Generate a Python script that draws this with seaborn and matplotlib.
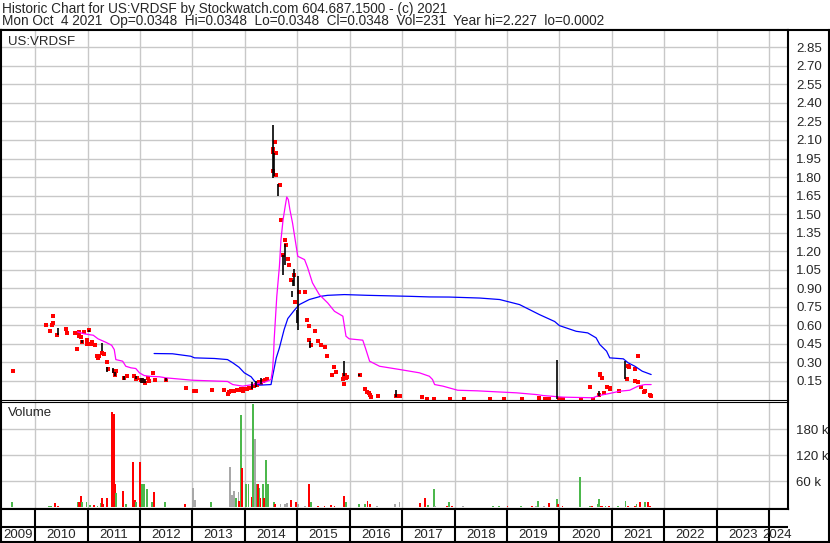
import matplotlib
matplotlib.use("Agg")
import matplotlib.pyplot as plt
import seaborn as sns
import pandas as pd
import numpy as np

# daily closes (decimal year, price)
tick_dates = [2009.57, 2010.20, 2010.28, 2010.32, 2010.34, 2010.35, 2010.41, 2010.59, 2010.61, 2010.76,
              2010.80, 2010.83, 2010.84, 2010.87, 2010.89, 2010.94, 2010.99, 2010.99, 2011.02, 2011.07,
              2011.09, 2011.15, 2011.18, 2011.20, 2011.22, 2011.28, 2011.31, 2011.37, 2011.39, 2011.51,
              2011.53, 2011.54, 2011.69, 2011.76, 2011.89, 2011.92, 2011.95, 2012.02, 2012.06, 2012.10,
              2012.16, 2012.17, 2012.25, 2012.29, 2012.50, 2012.88, 2013.04, 2013.07, 2013.37, 2013.61,
              2013.68, 2013.70, 2013.73, 2013.75, 2013.80, 2013.85, 2013.88, 2013.90, 2013.93, 2013.96,
              2014.00, 2014.05, 2014.08, 2014.12, 2014.15, 2014.18, 2014.21, 2014.24, 2014.28, 2014.30,
              2014.34, 2014.39, 2014.42, 2014.54, 2014.54, 2014.54, 2014.58, 2014.60, 2014.60, 2014.68,
              2014.69, 2014.73, 2014.76, 2014.79, 2014.82, 2014.84, 2014.89, 2014.94, 2014.96, 2015.03,
              2015.15, 2015.19, 2015.23, 2015.23, 2015.27, 2015.33, 2015.40, 2015.45, 2015.53, 2015.57,
              2015.67, 2015.71, 2015.74, 2015.87, 2015.89, 2015.90, 2015.92, 2015.93, 2015.95, 2016.19,
              2016.30, 2016.33, 2016.36, 2016.39, 2016.41, 2016.54, 2016.89, 2016.96, 2017.38, 2017.48,
              2017.60, 2017.92, 2018.19, 2018.67, 2018.95, 2019.28, 2019.62, 2019.72, 2019.81, 2020.00,
              2020.06, 2020.42, 2020.59, 2020.64, 2020.75, 2020.77, 2020.78, 2020.82, 2020.86, 2020.90,
              2020.96, 2020.97, 2021.13, 2021.28, 2021.30, 2021.32, 2021.45, 2021.45, 2021.49, 2021.49,
              2021.56, 2021.61, 2021.64, 2021.72, 2021.75]
tick_prices = [0.229, 0.601, 0.552, 0.601, 0.674, 0.615, 0.518, 0.574, 0.536, 0.536,
               0.412, 0.544, 0.512, 0.507, 0.467, 0.547, 0.485, 0.453, 0.560, 0.453,
               0.463, 0.439, 0.350, 0.334, 0.348, 0.378, 0.366, 0.302, 0.243, 0.234,
               0.202, 0.234, 0.175, 0.194, 0.194, 0.167, 0.178, 0.154, 0.148, 0.132,
               0.170, 0.146, 0.213, 0.156, 0.156, 0.095, 0.067, 0.067, 0.073, 0.073,
               0.043, 0.062, 0.070, 0.067, 0.070, 0.078, 0.075, 0.073, 0.081, 0.067,
               0.085, 0.089, 0.092, 0.095, 0.113, 0.108, 0.118, 0.121, 0.140, 0.135,
               0.148, 0.154, 0.162, 2.030, 2.000, 1.846, 2.086, 1.992, 1.819, 1.738,
               1.455, 1.172, 1.294, 1.253, 1.140, 1.092, 0.970, 1.005, 0.787, 0.868,
               0.873, 0.647, 0.593, 0.485, 0.445, 0.558, 0.477, 0.445, 0.423, 0.348,
               0.196, 0.259, 0.221, 0.164, 0.202, 0.129, 0.202, 0.175, 0.184, 0.202,
               0.081, 0.062, 0.054, 0.040, 0.024, 0.027, 0.027, 0.027, 0.019, 0.008,
               0.006, 0.006, 0.006, 0.006, 0.006, 0.006, 0.014, 0.006, 0.006, 0.008,
               0.006, 0.008, 0.099, 0.008, 0.040, 0.210, 0.202, 0.170, 0.049, 0.099,
               0.095, 0.081, 0.067, 0.162, 0.275, 0.261, 0.243, 0.148, 0.350, 0.140,
               0.099, 0.059, 0.067, 0.040, 0.032]

# high-low range bars
bar_dates = [2010.44, 2010.89, 2011.02, 2011.27, 2011.38, 2011.49, 2011.53, 2011.69, 2011.92, 2012.02,
             2012.06, 2012.09, 2012.50, 2014.13, 2014.21, 2014.31, 2014.53, 2014.56, 2014.63, 2014.72,
             2014.77, 2014.90, 2014.91, 2014.93, 2014.99, 2015.02, 2015.24, 2015.90, 2016.17, 2016.88,
             2019.95, 2020.75, 2021.25]
bar_lows = [0.518, 0.461, 0.544, 0.391, 0.226, 0.218, 0.194, 0.154, 0.162, 0.135,
            0.135, 0.130, 0.148, 0.089, 0.099, 0.129, 1.793, 1.806, 1.644, 1.005,
            1.092, 0.830, 0.916, 0.916, 0.620, 0.566, 0.418, 0.188, 0.194, 0.022,
            0.006, 0.032, 0.162]
bar_highs = [0.582, 0.485, 0.560, 0.461, 0.259, 0.251, 0.226, 0.194, 0.194, 0.170,
             0.170, 0.162, 0.175, 0.138, 0.146, 0.172, 2.224, 1.997, 1.747, 1.172,
             1.256, 0.876, 0.970, 1.057, 0.728, 1.003, 0.471, 0.310, 0.210, 0.073,
             0.323, 0.065, 0.310]

# moving averages
ma_short_dates = [2010.81, 2010.94, 2011.11, 2011.20, 2011.35, 2011.46, 2011.51, 2011.54, 2011.67, 2011.73,
                  2011.83, 2011.92, 2011.99, 2012.08, 2012.18, 2012.37, 2012.50, 2013.00, 2013.67, 2013.77,
                  2013.96, 2014.15, 2014.40, 2014.50, 2014.53, 2014.55, 2014.56, 2014.61, 2014.66, 2014.69,
                  2014.73, 2014.77, 2014.80, 2014.83, 2014.86, 2014.91, 2014.96, 2015.01, 2015.14, 2015.20,
                  2015.29, 2015.42, 2015.58, 2015.71, 2015.87, 2015.93, 2015.99, 2016.25, 2016.31, 2016.38,
                  2016.57, 2016.95, 2017.33, 2017.52, 2017.58, 2017.62, 2017.78, 2017.94, 2018.06, 2018.44,
                  2018.80, 2019.18, 2019.56, 2019.69, 2020.07, 2020.64, 2020.75, 2020.96, 2021.15, 2021.34,
                  2021.50, 2021.63, 2021.75]
ma_short = [0.547, 0.531, 0.520, 0.491, 0.463, 0.439, 0.404, 0.323, 0.310, 0.269,
            0.256, 0.251, 0.216, 0.194, 0.188, 0.184, 0.175, 0.156, 0.146, 0.121,
            0.108, 0.121, 0.143, 0.162, 0.243, 0.378, 0.485, 0.835, 1.078, 1.294,
            1.455, 1.563, 1.639, 1.617, 1.536, 1.429, 1.294, 1.159, 1.132, 1.065,
            0.944, 0.849, 0.782, 0.714, 0.674, 0.512, 0.491, 0.480, 0.404, 0.310,
            0.269, 0.243, 0.216, 0.188, 0.162, 0.121, 0.108, 0.089, 0.075, 0.070,
            0.062, 0.054, 0.040, 0.032, 0.019, 0.014, 0.032, 0.049, 0.067, 0.075,
            0.108, 0.121, 0.121]
ma_long_dates = [2012.27, 2012.62, 2012.97, 2013.04, 2013.42, 2013.67, 2013.77, 2013.89, 2013.99, 2014.12,
                 2014.21, 2014.28, 2014.50, 2014.53, 2014.60, 2014.66, 2014.75, 2014.82, 2014.94, 2015.04,
                 2015.23, 2015.45, 2015.58, 2015.90, 2016.34, 2017.14, 2017.52, 2017.90, 2018.48, 2018.86,
                 2019.24, 2019.62, 2019.91, 2020.00, 2020.32, 2020.54, 2020.70, 2020.77, 2020.90, 2020.96,
                 2021.22, 2021.31, 2021.44, 2021.58, 2021.75]
ma_long = [0.372, 0.370, 0.350, 0.337, 0.332, 0.323, 0.297, 0.261, 0.216, 0.184,
           0.135, 0.116, 0.121, 0.188, 0.337, 0.418, 0.566, 0.655, 0.720, 0.768,
           0.809, 0.835, 0.843, 0.849, 0.843, 0.835, 0.830, 0.829, 0.821, 0.809,
           0.768, 0.687, 0.631, 0.598, 0.552, 0.539, 0.499, 0.445, 0.391, 0.337,
           0.329, 0.297, 0.269, 0.229, 0.202]

# volume (thousands) and day direction
vol_dates = [2009.56, 2010.20, 2010.27, 2010.31, 2010.38, 2010.43, 2010.59, 2010.81, 2010.84, 2010.87,
             2010.90, 2010.98, 2011.04, 2011.13, 2011.19, 2011.25, 2011.27, 2011.30, 2011.37, 2011.475,
             2011.495, 2011.505, 2011.52, 2011.54, 2011.68, 2011.73, 2011.86, 2011.91, 2011.93, 2012.00,
             2012.04, 2012.08, 2012.13, 2012.23, 2012.26, 2012.48, 2012.86, 2013.02, 2013.05, 2013.36,
             2013.72, 2013.75, 2013.77, 2013.79, 2013.83, 2013.84, 2013.88, 2013.895, 2013.93, 2013.95,
             2014.03, 2014.07, 2014.13, 2014.16, 2014.19, 2014.23, 2014.25, 2014.28, 2014.30, 2014.34,
             2014.36, 2014.40, 2014.44, 2014.55, 2014.58, 2014.68, 2014.77, 2014.80, 2014.88, 2014.98,
             2015.02, 2015.14, 2015.23, 2015.27, 2015.39, 2015.52, 2015.65, 2015.71, 2015.89, 2015.93,
             2016.17, 2016.29, 2016.34, 2016.39, 2016.52, 2016.87, 2016.95, 2017.34, 2017.44, 2017.49,
             2017.60, 2017.63, 2017.86, 2017.90, 2017.95, 2018.16, 2018.74, 2018.84, 2019.01, 2019.27,
             2019.48, 2019.56, 2019.60, 2019.70, 2019.81, 2019.95, 2019.98, 2020.06, 2020.40, 2020.58,
             2020.63, 2020.73, 2020.75, 2020.79, 2020.82, 2020.88, 2020.94, 2021.11, 2021.26, 2021.30,
             2021.44, 2021.47, 2021.54, 2021.63, 2021.69, 2021.73]
vol_k = [11.5, 1.6, 3.9, 3.9, 9.2, 3.9, 1.6, 11.5, 11.5, 27,
         11.5, 11.5, 5.3, 5.3, 3.9, 9.2, 20.8, 6.9, 20.8, 219,
         101, 215, 53, 34, 39, 6.9, 104, 17, 11.5, 104,
         53, 53, 42, 11.5, 36, 13, 6.9, 45, 17, 13,
         94, 28, 2, 38, 11, 21, 36, 14.5, 212, 90,
         53, 53, 25, 238, 158, 55, 53, 45, 21, 53,
         21, 109, 53, 11.5, 6.9, 6.9, 6.9, 10.8, 17, 11.5,
         6.9, 3.9, 53, 11.5, 3.9, 3.9, 5.3, 3.9, 27, 11.5,
         6.9, 6.9, 14.5, 6.9, 2.3, 6.9, 11.5, 9.2, 20.8, 5.3,
         42, 2.3, 2.3, 11.5, 3, 2.3, 2.3, 2.3, 2.3, 2.3,
         2.3, 2.3, 15.5, 2.3, 9.2, 18.5, 6.9, 2.3, 71, 2.3,
         2.3, 6.9, 18.5, 2.3, 2.3, 2.3, 2.3, 2.3, 15.5, 2.3,
         2.3, 6.9, 11.5, 11.5, 11.5, 2.3]
vol_dir = ["up", "up", "up", "up", "down", "down", "down", "up", "down", "down",
           "up", "up", "up", "down", "up", "up", "down", "down", "down", "down",
           "up", "down", "down", "up", "down", "up", "down", "down", "up", "down",
           "up", "up", "up", "up", "down", "up", "down", "flat", "flat", "up",
           "flat", "flat", "down", "flat", "flat", "up", "flat", "down", "up", "down",
           "up", "up", "down", "up", "flat", "up", "down", "up", "down", "up",
           "down", "up", "up", "up", "down", "flat", "flat", "flat", "down", "down",
           "flat", "flat", "down", "up", "down", "down", "down", "down", "down", "up",
           "up", "up", "down", "down", "flat", "flat", "flat", "down", "down", "up",
           "up", "flat", "down", "up", "down", "flat", "up", "up", "down", "up",
           "down", "flat", "up", "flat", "down", "up", "down", "down", "up", "up",
           "down", "up", "up", "down", "down", "up", "down", "up", "up", "down",
           "down", "up", "down", "up", "down", "down"]

years = list(range(2009, 2025))
price_ticks = [0.15, 0.30, 0.45, 0.60, 0.75, 0.90, 1.05, 1.20, 1.35, 1.50,
               1.65, 1.80, 1.95, 2.10, 2.25, 2.40, 2.55, 2.70, 2.85]
vol_ticks = [60, 120, 180]

sns.set_style("white")
plt.rcParams['font.family'] = ['Liberation Sans', 'DejaVu Sans']
FS = 9.5
GRID = "#c8c8c8"
X0, X1 = 2009.35, 2024.36

W, H = 830, 543
def box(x0, y0, x1, y1):
    return [x0 / W, 1 - y1 / H, (x1 - x0) / W, (y1 - y0) / H]

fig = plt.figure(figsize=(8.3, 5.43), dpi=100)

frame = fig.add_axes(box(1, 30, 829, 542))
frame.set_xticks([])
frame.set_yticks([])
for s in frame.spines.values():
    s.set_linewidth(1.5)
    s.set_color("black")

# price panel
ax = fig.add_axes(box(1, 30, 788, 399.5))
ax.set_facecolor("white")
ax.set_xlim(X0, X1)
ax.set_ylim(0, 2.99)
ax.set_xticks(years[1:])
ax.set_yticks(price_ticks)
ax.set_yticklabels([f"{v:.2f}" for v in price_ticks])
ax.yaxis.tick_right()
ax.tick_params(axis="y", length=0, pad=6, labelsize=FS)
ax.tick_params(axis="x", length=0, labelbottom=False)
ax.grid(True, color=GRID, lw=1.0)
ax.set_axisbelow(True)
for k, s in ax.spines.items():
    s.set_color("black")
    s.set_linewidth(0.8 if k == "bottom" else 1.5)

sns.lineplot(x=ma_long_dates, y=ma_long, ax=ax, color="#0000ff", lw=0.9,
             sort=False, estimator=None)
sns.lineplot(x=ma_short_dates, y=ma_short, ax=ax, color="#ff00ff", lw=0.9,
             sort=False, estimator=None)
ax.vlines(bar_dates, bar_lows, bar_highs, color="black", lw=1.2)
sns.scatterplot(x=tick_dates, y=tick_prices, ax=ax, marker="s", s=6,
                color="#ff0000", linewidth=0)
ax.set_xlabel("")
ax.set_ylabel("")
ax.text(7 / 787, 1 - 12 / 369.5, "US:VRDSF", transform=ax.transAxes,
        fontsize=FS, va="center", ha="left")

# volume panel
vx = fig.add_axes(box(1, 402, 788, 509))
vx.set_facecolor("white")
vx.set_xlim(X0, X1)
vx.set_ylim(-3.5, 243)
vx.set_xticks(years[1:])
vx.set_yticks(vol_ticks)
vx.set_yticklabels([f"{v} k" for v in vol_ticks])
vx.yaxis.tick_right()
vx.tick_params(axis="y", length=0, pad=6, labelsize=FS)
vx.tick_params(axis="x", length=0, labelbottom=False)
vx.grid(True, color=GRID, lw=1.0)
vx.set_axisbelow(True)
for k, s in vx.spines.items():
    s.set_color("black")
    s.set_linewidth(0.8 if k == "top" else 1.5)

vol = pd.DataFrame({"date": vol_dates, "vol": vol_k, "dir": vol_dir})
palette = {"up": "#4cb84c", "down": "#ff0000", "flat": "#a8a8a8"}
vx.bar(vol["date"], vol["vol"], width=0.036,
       color=[palette[d] for d in vol["dir"]], linewidth=0)
vx.text(7 / 787, 1 - 11 / 107, "Volume", transform=vx.transAxes,
        fontsize=FS, va="center", ha="left")

# year label strip
lx = fig.add_axes(box(1, 509, 788, 542))
lx.set_xlim(X0, X1)
lx.set_ylim(0, 33)
lx.set_xticks([])
lx.set_yticks([])
lx.axhline(15, color="black", lw=1.5)
lx.vlines(years[1:], 0, 33, color="black", lw=1.5)
for k, s in lx.spines.items():
    s.set_color("black")
    s.set_linewidth(1.5)
lx.spines["right"].set_visible(False)
for y in years:
    if y == 2009:
        xc = (X0 + 2010) / 2
    elif y == 2024:
        xc = 2024.15
    else:
        xc = y + 0.5
    lx.text(xc, 7.3, str(y), ha="center", va="center", fontsize=FS, clip_on=False)

fig.text(2 / W, 1 - 8.5 / H, "Historic Chart for US:VRDSF by Stockwatch.com 604.687.1500 - (c) 2021",
         fontsize=9.8, va="center", ha="left")
fig.text(2 / W, 1 - 21 / H,
         "Mon Oct  4 2021  Op=0.0348  Hi=0.0348  Lo=0.0348  Cl=0.0348  Vol=231  Year hi=2.227  lo=0.0002",
         fontsize=9.8, va="center", ha="left")

fig.savefig("out.png", dpi=100)
